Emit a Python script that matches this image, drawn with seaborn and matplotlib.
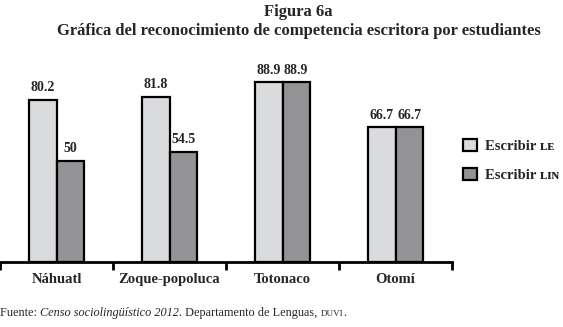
import pandas as pd
import matplotlib
matplotlib.use('Agg')
import matplotlib.pyplot as plt
import seaborn as sns
from matplotlib.patches import Patch

# Datos de la figura 6a
grupos = ['Náhuatl', 'Zoque-popoluca', 'Totonaco', 'Otomí']
escribir_le = [80.2, 81.8, 88.9, 66.7]
escribir_lin = [50, 54.5, 88.9, 66.7]
series = ['Escribir LE', 'Escribir LIN']
etiquetas_leyenda = ['Escribir ʟᴇ', 'Escribir ʟɪɴ']
colores = ['#dadbdd', '#939396']

df = pd.DataFrame({
    'grupo': grupos * 2,
    'valor': escribir_le + escribir_lin,
    'serie': [series[0]] * len(grupos) + [series[1]] * len(grupos),
})

sns.set_theme(style='white')
plt.rcParams['font.family'] = ['Liberation Serif', 'DejaVu Serif']

fig = plt.figure(figsize=(5.63, 3.27), dpi=100)
ax = fig.add_axes([0.0, 0.199, 0.803, 0.618])

sns.barplot(data=df, x='grupo', y='valor', hue='serie', order=grupos,
            hue_order=series, palette=colores, width=0.48,
            edgecolor='black', linewidth=1.6, saturation=1, ax=ax, legend=False)

for cont in ax.containers:
    ax.bar_label(cont, fmt='%g', padding=4, fontsize=10, fontweight='bold')

ax.set_ylim(0, 100)
ax.set_xlim(-0.5, 3.5)
ax.set_xlabel('')
ax.set_ylabel('')
ax.set_yticks([])
for s in ['top', 'left', 'right']:
    ax.spines[s].set_visible(False)
ax.spines['bottom'].set_linewidth(2)
ax.spines['bottom'].set_color('black')

ax.set_xticks(range(len(grupos)))
ax.set_xticklabels(grupos, fontsize=10.5, fontweight='bold')
ax.tick_params(axis='x', which='major', bottom=True, length=0, pad=8)
ax.set_xticks([-0.5, 0.5, 1.5, 2.5, 3.5], minor=True)
ax.tick_params(axis='x', which='minor', bottom=True, length=6, width=2,
               direction='out', color='black')

handles = [Patch(facecolor=c, edgecolor='black', linewidth=1.6) for c in colores]
fig.legend(handles, etiquetas_leyenda, loc='center left', bbox_to_anchor=(0.805, 0.51),
           frameon=False, handlelength=0.9, handleheight=0.9, labelspacing=1.0,
           handletextpad=0.6, borderpad=0.2, prop={'size': 10.5, 'weight': 'bold'})

fig.text(0.53, 0.962, 'Figura 6a', ha='center', va='center', fontsize=12, fontweight='bold')
fig.text(0.53, 0.906, 'Gráfica del reconocimiento de competencia escritora por estudiantes',
         ha='center', va='center', fontsize=12, fontweight='bold')

# Nota de fuente con estilos mezclados
fig.canvas.draw()
renderer = fig.canvas.get_renderer()
partes = [('Fuente: ', 'normal', 8.8), ('Censo sociolingüístico 2012', 'italic', 8.8),
          ('. Departamento de Lenguas, ', 'normal', 8.8), ('DUVI', 'normal', 6.5), ('.', 'normal', 8.8)]
x = 0.0
for txt, estilo, tam in partes:
    t = fig.text(x, 0.035, txt, ha='left', va='baseline', fontsize=tam, style=estilo)
    bb = t.get_window_extent(renderer=renderer)
    x += bb.width / fig.bbox.width

fig.savefig('out.png', dpi=100)
